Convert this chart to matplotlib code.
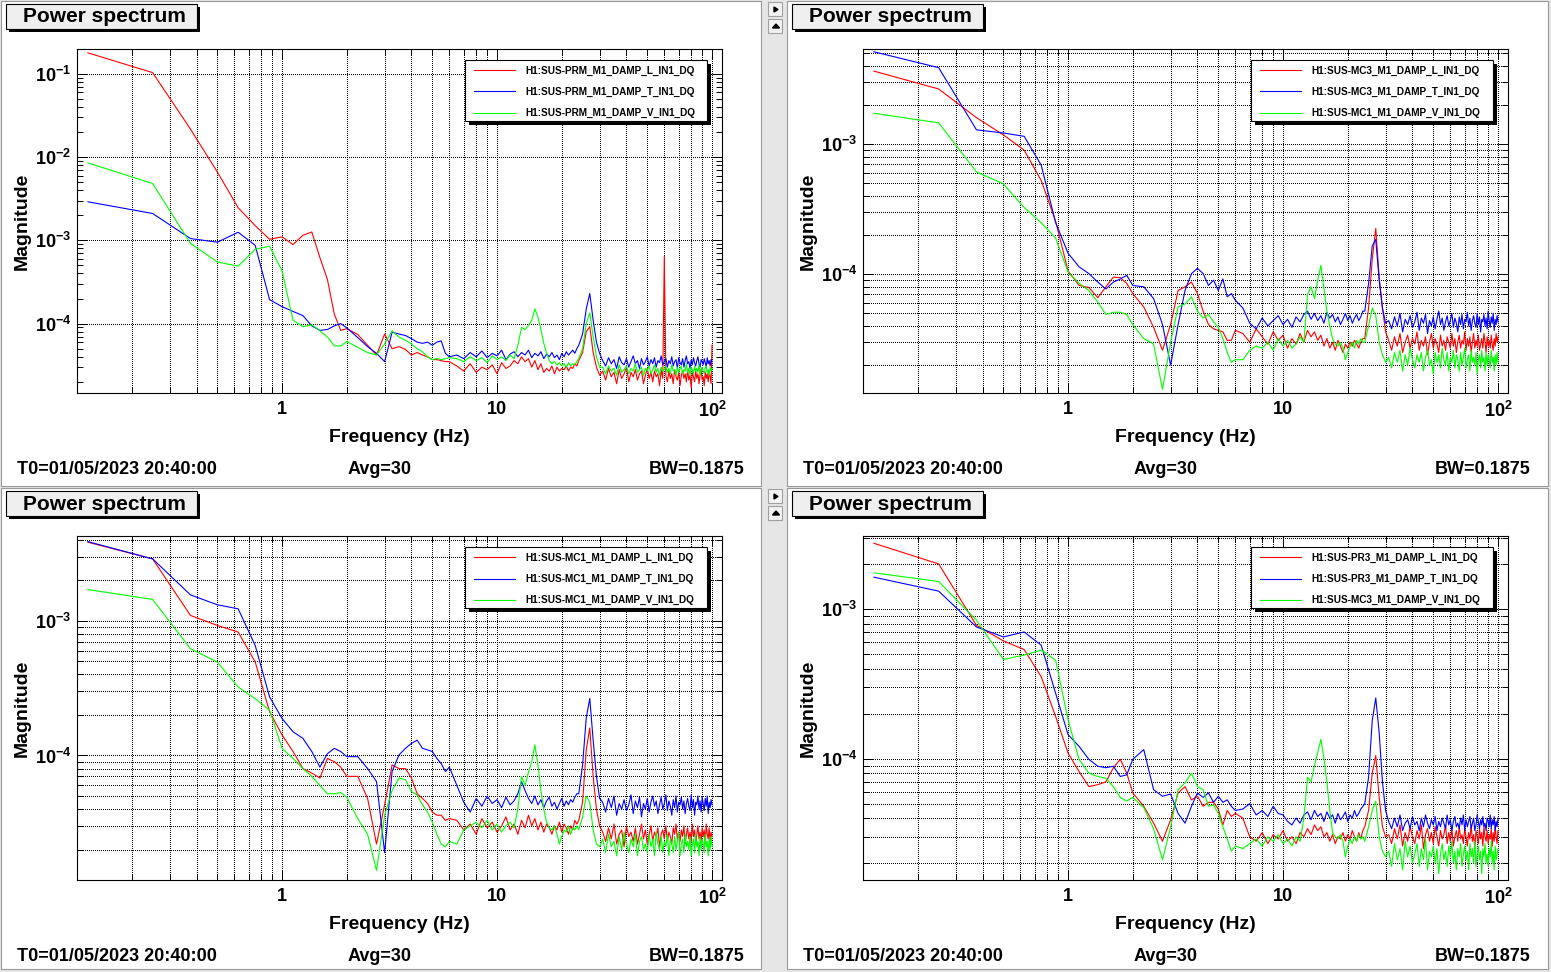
import numpy as np
import matplotlib.pyplot as plt
from matplotlib.patches import Rectangle, Polygon
from matplotlib.lines import Line2D
from matplotlib.ticker import LogLocator, NullFormatter, FixedLocator, FixedFormatter, LogFormatterSciNotation

plt.rcParams['font.family'] = ['Liberation Sans', 'DejaVu Sans']
plt.rcParams['font.weight'] = 'bold'
plt.rcParams['mathtext.fontset'] = 'custom'
plt.rcParams['mathtext.rm'] = 'Liberation Sans:bold'
plt.rcParams['mathtext.bf'] = 'Liberation Sans:bold'

W, H = 1551, 972

# frequency bins (BW grid 0.125 Hz), a subset of the FFT bins
BIN = 0.125
freq = BIN * np.r_[np.arange(1, 17), np.arange(18, 49, 2), np.arange(52, 189, 4), np.arange(192, 801, 8)]

# magnitudes in units of 1e-6
# rows: 0.125-2 Hz | 2.25-6 Hz | 6.5-23.5 Hz | 24-100 Hz
prm_l = [178000, 103000, 21600, 6600, 2460, 1500, 1030, 1100, 890, 1150, 1260, 620, 340, 130, 83, 87,
         74, 55, 42, 75, 50, 53, 49, 42, 45, 42, 40, 37, 37, 36, 35, 35,
         31, 27, 33, 26, 30, 28, 32, 25, 34, 29, 31, 36, 33, 40, 35, 38, 30, 36, 28, 33, 26, 29, 27, 31, 25,
         30, 27, 29, 28, 31, 27, 30, 29, 33, 31,
         36, 45, 80, 92, 45, 30, 24,
         27, 21, 29, 23, 26, 19, 28, 22, 25, 30, 20, 26, 23, 28, 21, 25, 27, 19, 24, 29, 22, 26, 20, 27, 23,
         25, 18, 28, 22, 640,
         24, 20, 27, 22, 25, 19, 28, 23, 21, 26, 18, 24, 27, 22, 25, 20, 28, 21, 24, 17, 26, 23, 20, 27, 22,
         25, 19, 24, 28, 21, 23, 18, 26, 22, 25, 20, 27, 23, 19, 55]
prm_t = [2900, 2100, 1050, 950, 1250, 870, 194, 160, 140, 125, 94, 83, 85, 94, 100, 89,
         68, 53, 44, 35, 79, 75, 72, 66, 60, 58, 60, 55, 60, 62, 44, 40,
         42, 38, 45, 40, 47, 39, 44, 41, 48, 37, 43, 46, 40, 45, 42, 48, 39, 44, 41, 46, 38, 43, 40, 45, 39,
         42, 37, 44, 40, 46, 42, 45, 48, 44, 50,
         55, 75, 150, 230, 110, 60, 44,
         36, 31, 39, 33, 37, 29, 40, 34, 32, 38, 30, 35, 41, 33, 36, 29, 38, 32, 35, 40, 31, 37, 33, 39, 30,
         36, 34, 41, 32, 35, 38, 30, 36, 33, 40, 31, 35, 37, 29, 39, 34, 32, 38, 30, 36, 41, 33, 35, 29, 37,
         32, 39, 34, 31, 36, 40, 33, 30, 37, 35, 32, 38, 34, 30, 39, 33, 36, 31, 37, 35]
prm_v = [8500, 4800, 920, 550, 490, 780, 850, 430, 110, 92, 97, 82, 69, 54, 54, 61,
         52, 45, 42, 57, 82, 69, 63, 57, 50, 46, 40, 37, 38, 37, 38, 39,
         38, 35, 40, 36, 39, 34, 41, 37, 40, 36, 42, 38, 55, 90, 85, 95, 110, 150, 120, 85, 58, 44, 36, 33, 35,
         32, 34, 31, 33, 30, 34, 31, 33, 32, 35,
         38, 50, 100, 135, 70, 40, 30,
         30, 25, 31, 27, 29, 24, 32, 26, 28, 31, 25, 29, 27, 33, 26, 28, 30, 24, 29, 27, 31, 25, 28, 32, 26,
         29, 24, 30, 27, 28, 31, 26, 29, 25, 32, 27, 28, 24, 30, 26, 29, 31, 25, 28, 27, 33, 26, 29, 24, 30,
         28, 25, 31, 27, 29, 26, 32, 24, 28, 30, 27, 25, 29, 31, 26, 28, 24, 30, 27, 29]

mc3_l = [3650, 2660, 1600, 1180, 900, 526, 256, 106, 82, 79, 66, 80, 95, 94, 85, 71,
         56, 39, 26, 41, 75, 80, 87, 71, 52, 41, 38, 37, 36, 31, 31, 37,
         35, 30, 38, 33, 29, 36, 31, 34, 27, 32, 29, 35, 30, 37, 33, 36, 31, 34, 28, 32, 27, 30, 26, 31, 28,
         25, 29, 27, 30, 28, 31, 29, 27, 30, 32,
         32, 55, 130, 225, 95, 55, 36,
         31, 26, 33, 28, 35, 25, 30, 34, 27, 32, 29, 36, 26, 31, 28, 33, 24, 30, 35, 27, 32, 29, 25, 34, 28,
         31, 26, 33, 30, 27, 35, 28, 32, 25, 30, 34, 27, 31, 29, 36, 26, 32, 28, 33, 25, 30, 35, 27, 31, 28,
         34, 26, 29, 32, 27, 35, 30, 25, 33, 28, 31, 27, 34, 29, 26, 32, 28, 35, 30, 33]
mc3_t = [5140, 3880, 1290, 1220, 1150, 690, 250, 145, 114, 101, 87, 77, 87, 92, 98, 82,
         80, 65, 41, 20, 41, 75, 101, 111, 101, 82, 90, 75, 92, 67, 71, 63,
         55, 42, 38, 46, 40, 44, 48, 41, 45, 39, 47, 43, 49, 52, 45, 50, 44, 48, 42, 51, 46, 49, 43, 47, 41,
         45, 50, 44, 48, 42, 46, 49, 44, 47, 52,
         52, 85, 165, 185, 90, 55, 42,
         44, 38, 47, 40, 50, 36, 45, 41, 48, 39, 43, 51, 37, 46, 42, 49, 35, 44, 40, 47, 38, 45, 52, 41, 46,
         37, 43, 48, 40, 44, 50, 39, 46, 42, 36, 47, 41, 49, 38, 45, 43, 51, 40, 46, 37, 44, 48, 42, 39, 50,
         41, 47, 36, 45, 43, 49, 40, 46, 38, 52, 44, 39, 47, 42, 50, 37, 45, 41, 48, 43]
mc1_v_a = [1730, 1460, 612, 496, 326, 249, 190, 104, 85, 75, 61, 49, 51, 51, 49, 41,
           32, 29, 13, 30, 56, 59, 67, 52, 46, 49, 43, 39, 32, 25, 21, 22,
           22, 26, 28, 27, 30, 26, 32, 28, 31, 27, 29, 33, 30, 70, 80, 65, 90, 117, 78, 52, 40, 32, 29, 28, 30,
           27, 22, 25, 28, 30, 27, 31, 29, 32, 30,
           30, 40, 55, 48, 30, 24, 21,
           23, 19, 25, 21, 26, 18, 24, 20, 27, 22, 19, 24, 21, 25, 18, 23, 26, 20, 22, 17, 25, 21, 24, 19, 27,
           22, 20, 25, 18, 23, 21, 26, 19, 24, 22, 18, 25, 20, 23, 27, 19, 22, 24, 18, 26, 21, 23, 20, 25, 17,
           22, 24, 19, 26, 21, 23, 18, 25, 20, 24, 22, 19, 26, 21, 23, 18, 24, 20, 25, 21]

mc1_l = [3830, 2880, 1095, 924, 824, 494, 211, 142, 107, 80, 74, 68, 95, 90, 82, 70,
         70, 48, 22, 43, 85, 80, 80, 68, 52, 48, 44, 38, 36, 36, 33, 34,
         33, 28, 31, 26, 34, 29, 32, 27, 30, 35, 28, 31, 26, 33, 29, 36, 30, 34, 28, 32, 27, 31, 29, 26, 30,
         28, 32, 27, 31, 29, 26, 30, 28, 33, 31,
         33, 45, 110, 160, 70, 40, 30,
         27, 23, 29, 24, 31, 22, 26, 28, 21, 30, 25, 27, 23, 29, 22, 26, 31, 24, 28, 22, 26, 30, 23, 27, 25,
         29, 21, 26, 28, 24, 30, 23, 27, 25, 22, 29, 26, 31, 24, 27, 23, 28, 25, 30, 22, 26, 29, 24, 27, 23,
         31, 25, 28, 22, 26, 30, 24, 27, 23, 29, 25, 28, 22, 31, 26, 24, 29, 23, 27, 25]
mc1_t = [3870, 2880, 1557, 1314, 1227, 656, 272, 188, 150, 134, 107, 82, 103, 113, 107, 98,
         98, 80, 64, 19, 76, 101, 113, 123, 130, 113, 110, 107, 95, 87, 76, 82,
         60, 45, 38, 48, 42, 50, 44, 47, 41, 49, 43, 46, 52, 64, 55, 48, 44, 50, 43, 47, 41, 46, 49, 42, 45,
         40, 44, 48, 42, 46, 43, 47, 45, 49, 52,
         52, 85, 190, 265, 130, 70, 48,
         45, 38, 48, 41, 50, 36, 44, 40, 47, 39, 43, 51, 37, 46, 41, 49, 35, 44, 40, 48, 38, 45, 50, 42, 46,
         37, 43, 49, 40, 44, 51, 39, 46, 42, 36, 47, 41, 50, 38, 45, 43, 49, 40, 46, 37, 44, 48, 42, 39, 51,
         41, 47, 36, 45, 43, 50, 40, 46, 38, 49, 44, 39, 48, 42, 50, 37, 45, 41, 47, 43]
mc1_v_b = [1706, 1440, 620, 494, 322, 264, 217, 113, 95, 80, 70, 60, 52, 52, 53, 49,
           34, 26, 14, 36, 55, 68, 66, 54, 51, 43, 38, 32, 26, 22, 21, 23,
           22, 28, 30, 32, 29, 33, 28, 31, 27, 30, 32, 29, 40, 70, 60, 75, 90, 120, 85, 55, 40, 32, 29, 28, 30,
           26, 22, 25, 28, 27, 30, 26, 29, 28, 30,
           28, 35, 50, 45, 28, 22, 21,
           24, 19, 26, 21, 23, 18, 25, 20, 27, 22, 19, 24, 21, 26, 18, 23, 25, 20, 22, 19, 26, 21, 24, 18, 27,
           22, 20, 25, 19, 23, 21, 26, 18, 24, 22, 19, 25, 20, 23, 27, 18, 22, 24, 19, 26, 21, 23, 20, 25, 18,
           22, 24, 19, 26, 21, 23, 18, 25, 20, 24, 22, 19, 26, 21, 23, 18, 24, 20, 25, 21]

pr3_l = [2770, 2016, 782, 615, 538, 354, 192, 109, 82, 65, 67, 70, 87, 99, 80, 59,
         48, 37, 28, 39, 59, 65, 53, 56, 48, 51, 51, 46, 36, 45, 41, 43,
         40, 30, 28, 32, 27, 31, 29, 33, 28, 30, 27, 32, 30, 34, 31, 36, 33, 35, 30, 32, 28, 31, 27, 30, 29,
         32, 28, 31, 29, 33, 30, 28, 32, 29, 33,
         35, 45, 80, 105, 55, 35, 30,
         31, 27, 34, 29, 36, 26, 32, 28, 35, 30, 27, 33, 29, 36, 25, 31, 34, 28, 32, 27, 35, 30, 26, 33, 29,
         31, 36, 27, 32, 28, 34, 26, 30, 33, 28, 35, 29, 31, 27, 34, 30, 26, 32, 29, 36, 28, 31, 25, 33, 30,
         27, 34, 29, 32, 26, 35, 30, 28, 33, 27, 31, 29, 34, 26, 32, 28, 35, 30, 27, 33]
pr3_t = [1643, 1325, 762, 654, 706, 575, 274, 145, 121, 99, 89, 87, 89, 76, 78, 99,
         115, 62, 56, 58, 43, 37, 48, 59, 55, 59, 51, 56, 51, 53, 48, 45,
         46, 50, 42, 45, 41, 48, 43, 42, 38, 36, 40, 37, 42, 44, 39, 45, 41, 43, 38, 44, 40, 42, 37, 43, 39,
         41, 44, 38, 42, 40, 45, 41, 43, 46, 48,
         50, 75, 180, 255, 150, 70, 45,
         38, 34, 40, 35, 42, 33, 37, 39, 34, 41, 36, 38, 33, 40, 35, 42, 37, 34, 39, 36, 41, 33, 38, 35, 40,
         37, 34, 42, 36, 39, 33, 38, 41, 35, 37, 34, 40, 36, 42, 33, 39, 35, 38, 41, 34, 37, 40, 33, 36, 42,
         38, 34, 39, 36, 41, 35, 37, 33, 40, 38, 35, 42, 34, 39, 36, 41, 33, 38, 35, 40]
mc3_v = [1756, 1537, 845, 462, 494, 533, 457, 182, 99, 80, 76, 74, 65, 55, 52, 55,
         47, 34, 21, 35, 62, 69, 80, 65, 62, 48, 49, 43, 35, 29, 24, 26,
         25, 27, 29, 26, 30, 28, 31, 27, 29, 26, 30, 28, 40, 75, 70, 90, 110, 135, 100, 70, 45, 32, 30, 29, 31,
         28, 22, 26, 29, 27, 30, 28, 31, 29, 30,
         28, 35, 45, 52, 30, 24, 22,
         24, 19, 27, 21, 25, 18, 28, 22, 26, 20, 23, 27, 19, 25, 21, 29, 18, 24, 22, 26, 20, 25, 17, 23, 27,
         21, 24, 19, 26, 22, 28, 20, 24, 18, 25, 22, 27, 19, 23, 26, 21, 24, 18, 27, 22, 25, 20, 28, 19, 23,
         26, 21, 24, 17, 25, 22, 27, 20, 23, 19, 25, 22, 28, 20, 24, 18, 26, 21, 23, 25]

names_1 = ['H1:SUS-PRM_M1_DAMP_L_IN1_DQ', 'H1:SUS-PRM_M1_DAMP_T_IN1_DQ', 'H1:SUS-PRM_M1_DAMP_V_IN1_DQ']
names_2 = ['H1:SUS-MC3_M1_DAMP_L_IN1_DQ', 'H1:SUS-MC3_M1_DAMP_T_IN1_DQ', 'H1:SUS-MC1_M1_DAMP_V_IN1_DQ']
names_3 = ['H1:SUS-MC1_M1_DAMP_L_IN1_DQ', 'H1:SUS-MC1_M1_DAMP_T_IN1_DQ', 'H1:SUS-MC1_M1_DAMP_V_IN1_DQ']
names_4 = ['H1:SUS-PR3_M1_DAMP_L_IN1_DQ', 'H1:SUS-PR3_M1_DAMP_T_IN1_DQ', 'H1:SUS-MC3_M1_DAMP_V_IN1_DQ']

colors = ['#ff0000', '#0000ff', '#00ff00']
footer = ['T0=01/05/2023 20:40:00', 'Avg=30', 'BW=0.1875']

panels = [
    ((0, 0), names_1, [prm_l, prm_t, prm_v], (1.47e-5, 0.198), False),
    ((786, 0), names_2, [mc3_l, mc3_t, mc1_v_a], (1.22e-5, 5.4e-3), True),
    ((0, 487), names_3, [mc1_l, mc1_t, mc1_v_b], (1.19e-5, 4.26e-3), True),
    ((786, 487), names_4, [pr3_l, pr3_t, mc3_v], (1.54e-5, 3.1e-3), True),
]

fig = plt.figure(figsize=(W / 100, H / 100), dpi=100, facecolor='#e6e6e6')
tf = fig.transFigure


def rect(x0, y0, x1, y1, **kw):
    fig.add_artist(Rectangle((x0 / W, 1 - y1 / H), (x1 - x0) / W, (y1 - y0) / H, transform=tf, **kw))


def text(x, y, s, **kw):
    fig.text(x / W, 1 - y / H, s, **kw)


dots = (0, (1, 2))
grid_kw = dict(ls=dots, color='black', lw=0.72, antialiased=False)

for (ox, oy), names, series, ylim, ygrid_minor in panels:
    # pad background
    rect(ox + 1, oy + 1, ox + 761 if ox == 0 else 1548, oy + 486 if oy == 0 else 969,
         facecolor='white', edgecolor='#9a9a9a', lw=0.8, zorder=0)

    ax = fig.add_axes([(ox + 77) / W, 1 - (oy + 393) / H, 645 / W, 344 / H])
    for vals, c in zip(series, colors):
        assert len(vals) == len(freq)
        ax.plot(freq, np.array(vals) * 1e-6, color=c, lw=0.8)

    ax.set_xscale('log')
    ax.set_yscale('log')
    ax.set_xlim(0.1112, 111.3)
    ax.set_ylim(*ylim)

    ax.xaxis.set_major_locator(FixedLocator([1, 10, 100]))
    ax.xaxis.set_major_formatter(FixedFormatter(['1', '10', r'$\mathdefault{10^{2}}$']))
    ax.xaxis.set_minor_locator(LogLocator(base=10, subs=np.arange(2, 10), numticks=20))
    ax.xaxis.set_minor_formatter(NullFormatter())
    ax.yaxis.set_major_locator(LogLocator(base=10, numticks=20))
    ax.yaxis.set_major_formatter(LogFormatterSciNotation())
    ax.yaxis.set_minor_locator(LogLocator(base=10, subs=np.arange(2, 10), numticks=20))
    ax.yaxis.set_minor_formatter(NullFormatter())

    ax.tick_params(which='both', direction='in', top=True, right=True, width=0.7, colors='black')
    ax.tick_params(which='major', length=7.2, labelsize=13)
    ax.tick_params(which='minor', length=4.3)
    ax.tick_params(axis='x', pad=6)
    ax.tick_params(axis='y', pad=4)
    for s in ax.spines.values():
        s.set_linewidth(0.8)

    ax.grid(True, which='major', **grid_kw)
    ax.grid(True, which='minor', axis='x', **grid_kw)
    if ygrid_minor:
        ax.grid(True, which='minor', axis='y', **grid_kw)

    # title box
    rect(ox + 9, oy + 7, ox + 200, oy + 32, facecolor='black', edgecolor='none', zorder=3)
    rect(ox + 6, oy + 4, ox + 197, oy + 29, facecolor='#efefef', edgecolor='black', lw=0.8, zorder=4)
    text(ox + 23, oy + 17, 'Power spectrum', fontsize=15, ha='left', va='center', zorder=5)

    # legend
    rect(ox + 469, oy + 64, ox + 711, oy + 125, facecolor='black', edgecolor='none', zorder=5)
    rect(ox + 465, oy + 60, ox + 707, oy + 121, facecolor='white', edgecolor='black', lw=0.8, zorder=6)
    for yy, name, c in zip([70.5, 91.5, 113], names, colors):
        fig.add_artist(Line2D([(ox + 474) / W, (ox + 515) / W], [1 - (oy + yy) / H] * 2,
                              color=c, lw=0.8, transform=tf, zorder=7))
        text(ox + 525.5, oy + yy, name, fontsize=7.2, ha='left', va='center', zorder=7)

    # axis titles and footer
    text(ox + 399, oy + 437, 'Frequency (Hz)', fontsize=14, ha='center', va='center')
    text(ox + 22, oy + 221, 'Magnitude', fontsize=14, ha='center', va='center', rotation=90)
    text(ox + 17, oy + 469, footer[0], fontsize=13, ha='left', va='center')
    text(ox + 380, oy + 469, footer[1], fontsize=13, ha='center', va='center')
    text(ox + 745, oy + 469, footer[2], fontsize=13, ha='right', va='center')

# small canvas buttons
for by in (2, 489):
    rect(768, by, 782, by + 14, facecolor='#f2f2f2', edgecolor='#a0a0a0', lw=0.8)
    rect(768, by + 17, 782, by + 31, facecolor='#f2f2f2', edgecolor='#a0a0a0', lw=0.8)
    fig.add_artist(Polygon([(774 / W, 1 - (by + 5) / H), (774 / W, 1 - (by + 10) / H),
                            (778 / W, 1 - (by + 7.5) / H)], closed=True, color='black', transform=tf))
    fig.add_artist(Polygon([(772.5 / W, 1 - (by + 26) / H), (779.5 / W, 1 - (by + 26) / H),
                            (776 / W, 1 - (by + 22) / H)], closed=True, color='black', transform=tf))

fig.savefig('out.png', dpi=100, facecolor=fig.get_facecolor())
